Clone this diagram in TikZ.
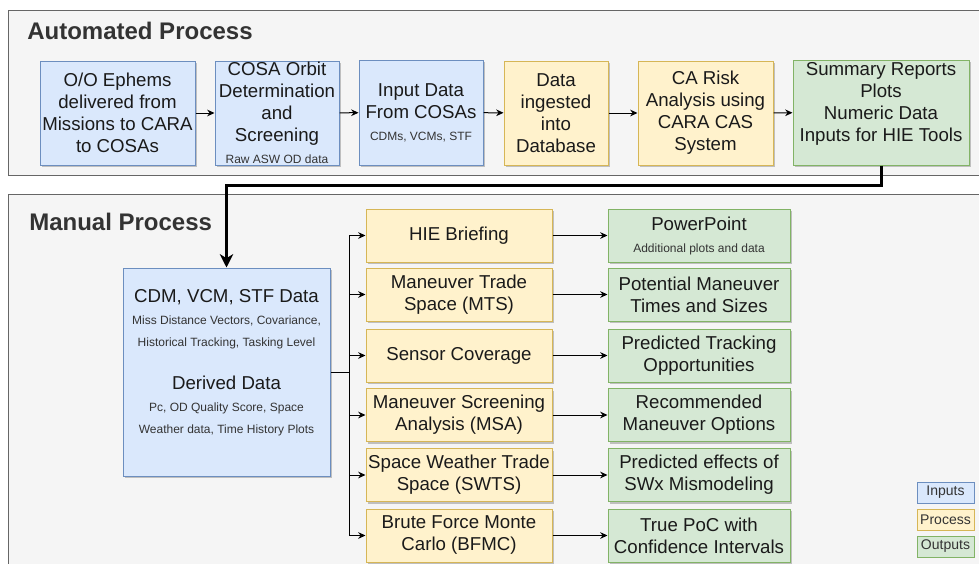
\documentclass[tikz,border=0pt]{standalone}
\usepackage{fontspec}
\setmainfont{Liberation Sans}
\usetikzlibrary{arrows.meta,shadows}
\definecolor{bfill}{HTML}{DAE8FC}\definecolor{bline}{HTML}{6C8EBF}
\definecolor{yfill}{HTML}{FFF2CC}\definecolor{yline}{HTML}{D6B656}
\definecolor{gfill}{HTML}{D5E8D4}\definecolor{gline}{HTML}{82B366}
\definecolor{cfill}{HTML}{F5F5F5}\definecolor{cline}{HTML}{666666}
\definecolor{ttl}{HTML}{333333}
\definecolor{txt}{HTML}{1A1A1A}
\newcommand\mainf{\fontsize{14}{16.5}\selectfont}
\newcommand\smf{\fontsize{9}{16.5}\selectfont\color{ttl}}
\tikzset{
 boxtext/.style={align=center, font=\mainf, text=txt, inner sep=0pt},
 box/.style={draw, line width=0.75pt, inner sep=0pt, boxtext,
   drop shadow={shadow xshift=1.6pt,shadow yshift=-1.6pt,opacity=0.22,fill=black}},
 wh/.style 2 args={minimum width=#1*0.75pt, minimum height=#2*0.75pt},
 inbox/.style={box, fill=bfill, draw=bline},
 prbox/.style={box, fill=yfill, draw=yline, wh={186}{53}},
 outbox/.style={box, fill=gfill, draw=gline},
 obox/.style={outbox, wh={182}{53}},
 legbox/.style={draw, line width=0.75pt, inner sep=0pt, align=center, wh={57}{21},
   font=\fontsize{10.5}{12}\selectfont, text=ttl},
 container/.style={fill=cfill, draw=cline, line width=0.75pt},
 ttlstyle/.style={font=\fontsize{18}{21}\selectfont\bfseries, text=ttl, anchor=west, inner sep=0pt},
 conn/.style={line width=0.75pt, -{Stealth[length=5.5pt,width=5pt,inset=1.8pt]}},
 bigconn/.style={line width=2.25pt, -{Stealth[length=10pt,width=10pt,inset=3pt]}},
}
\begin{document}
\begin{tikzpicture}[x=0.75pt,y=-0.75pt]
\useasboundingbox (0,0) rectangle (979,564);
\clip (0,0) rectangle (979,564);
\fill[white] (0,0) rectangle (979,564);
% containers
\draw[container] (8,10) rectangle (995,175);
\draw[container] (8,194) rectangle (995,590);
\node[ttlstyle] (t1) at (27,31) {Automated Process};
\node[ttlstyle] (t2) at (29,222) {Manual Process};
% automated row
\node[inbox, wh={155}{104}] (b1) at (117.5,113) {O/O Ephems\\delivered from\\Missions to CARA\\to COSAs};
\node[inbox, wh={124}{104}] (b2) at (277,113) {COSA Orbit\\Determination\\and\\Screening\\{\smf Raw ASW OD data}};
\node[inbox, wh={124}{105}] (b3) at (421,112.5) {Input Data\\From COSAs\\{\smf CDMs, VCMs, STF}};
\node[prbox, wh={104}{104}] (b4) at (556,113) {Data\\ingested\\into\\Database};
\node[prbox, wh={135}{104}] (b5) at (705.5,113) {CA Risk\\Analysis using\\CARA CAS\\System};
\node[outbox, wh={176}{105}] (b6) at (881,112.5) {};
\node[boxtext] (b6t) at (881,103.5) {Summary Reports\\Plots\\Numeric Data\\Inputs for HIE Tools};
\draw[conn] (b1) -- (b2);
\draw[conn] (b2) -- (b3);
\draw[conn] (b3) -- (b4);
\draw[conn] (b4) -- (b5);
\draw[conn] (b5) -- (b6);
% manual
\node[inbox, wh={207}{208}] (cdm) at (226.5,372) {};
\node[boxtext] (cdmt) at (226.5,363) {CDM, VCM, STF Data\\{\smf Miss Distance Vectors, Covariance,}\\{\smf Historical Tracking, Tasking Level}\\[16pt]Derived Data\\{\smf Pc, OD Quality Score, Space}\\{\smf Weather data, Time History Plots}};
\coordinate (bend) at (881,185);
\draw[bigconn] (b6.south) -- (bend) -| (cdm.north);
\node[prbox] (p1) at (459,235.5) {HIE Briefing};
\node[prbox] (p2) at (459,294.5) {Maneuver Trade\\Space (MTS)};
\node[prbox] (p3) at (459,355.5) {Sensor Coverage};
\node[prbox] (p4) at (459,415) {Maneuver Screening\\Analysis (MSA)};
\node[prbox] (p5) at (459,475) {Space Weather Trade\\Space (SWTS)};
\node[prbox] (p6) at (459,535.5) {Brute Force Monte\\Carlo (BFMC)};
\node[obox] (o1) at (699,235.5) {PowerPoint\\{\smf Additional plots and data}};
\node[obox] (o2) at (699,294.5) {Potential Maneuver\\Times and Sizes};
\node[obox] (o3) at (699,355.5) {Predicted Tracking\\Opportunities};
\node[obox] (o4) at (699,415) {Recommended\\Maneuver Options};
\node[obox] (o5) at (699,475) {Predicted effects of\\SWx Mismodeling};
\node[obox] (o6) at (699,535.5) {True PoC with\\Confidence Intervals};
\coordinate (tr) at (349,372);
\draw[line width=0.75pt] (cdm.east) -- (tr);
\foreach \i in {1,...,6}{
  \draw[conn] (tr) |- (p\i.west);
  \draw[conn] (p\i.east) -- (o\i.west);
}
% legend
\node[legbox, fill=bfill, draw=bline] (li) at (945.5,492.5) {Inputs};
\node[legbox, fill=yfill, draw=yline] (lp) at (945.5,519.5) {Process};
\node[legbox, fill=gfill, draw=gline] (lo) at (945.5,546.5) {Outputs};
\end{tikzpicture}
\end{document}
